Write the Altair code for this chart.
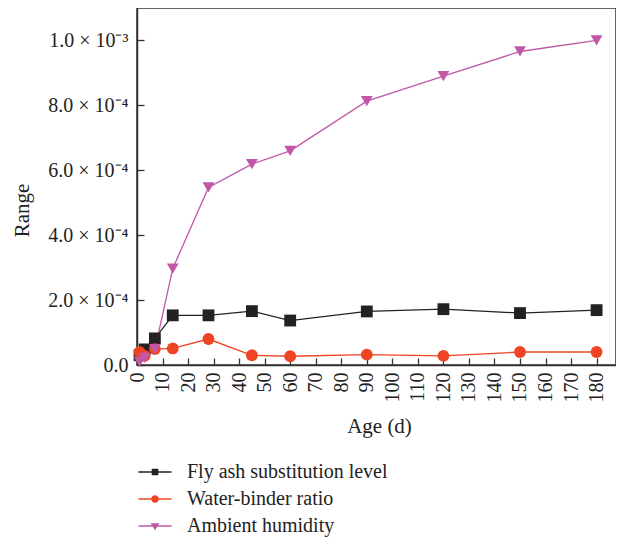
import altair as alt
import pandas as pd

series_names = ["Fly ash substitution level", "Water-binder ratio", "Ambient humidity"]
series_colors = ["#222222", "#ee4424", "#c157a6"]
ages = [1, 3, 7, 14, 28, 45, 60, 90, 120, 150, 180]
fly_ash = [3.0e-5, 4.8e-5, 8.2e-5, 1.53e-4, 1.53e-4, 1.66e-4, 1.37e-4, 1.65e-4, 1.72e-4, 1.60e-4, 1.69e-4]
water_binder = [4.0e-5, 2.8e-5, 4.9e-5, 5.1e-5, 8.0e-5, 3.0e-5, 2.7e-5, 3.2e-5, 2.8e-5, 4.0e-5, 4.0e-5]
humidity = [1.0e-5, 2.2e-5, 4.8e-5, 2.97e-4, 5.47e-4, 6.19e-4, 6.60e-4, 8.13e-4, 8.90e-4, 9.66e-4, 1.0e-3]
x_ticks = list(range(0, 200, 10))
y_ticks = [0, 0.0002, 0.0004, 0.0006, 0.0008, 0.001]

rows = []
for name, vals in zip(series_names, [fly_ash, water_binder, humidity]):
    for a, v in zip(ages, vals):
        rows.append({"series": name, "age": a, "value": v})
df = pd.DataFrame(rows)

W, H = 479, 357
FONT = "Liberation Serif"
AX = "#333333"

point_shapes = ["square", "circle", "triangle-down"]
legend_shapes = [
    "M-1,-0.04 L1,-0.04 L1,0.04 L-1,0.04 Z M-0.2,-0.2 L0.2,-0.2 L0.2,0.2 L-0.2,0.2 Z",
    "M-1,-0.04 L1,-0.04 L1,0.04 L-1,0.04 Z M0.23,0 A0.23,0.23 0 1,1 -0.23,0 A0.23,0.23 0 1,1 0.23,0 Z",
    "M-1,-0.04 L1,-0.04 L1,0.04 L-1,0.04 Z M-0.27,-0.17 L0.27,-0.17 L0,0.26 Z",
]

xs = alt.Scale(domain=[0, 187.6], nice=False, zero=False)
ys = alt.Scale(domain=[0, 0.0011], nice=False)
cs = alt.Scale(domain=series_names, range=series_colors)

y_label_expr = ("datum.value == 0 ? '0.0' : (datum.value > 0.00099 ? '1.0 × 10⁻³' : "
                "format(datum.value * 10000, '.1f') + ' × 10⁻⁴')")

x_axis_main = alt.Axis(values=x_ticks, labelAngle=270, labelAlign="right", labelBaseline="middle",
                       tickSize=0, labelPadding=7, title="Age (d)", titlePadding=13,
                       titleX=242, labelOverlap=False, labelFlush=False, labelBound=False)
y_axis_main = alt.Axis(values=y_ticks, labelExpr=y_label_expr, tickSize=0, labelPadding=9,
                       title="Range", titleX=-105, titleY=202, labelOverlap=False, labelFlush=False)

x_axis_ticks = alt.Axis(values=x_ticks[:-1], orient="top", offset=-H, labels=False, tickSize=7,
                        domain=False, title=None)
y_axis_ticks = alt.Axis(values=y_ticks, orient="right", offset=-W, labels=False, tickSize=7,
                        domain=False, title=None)

lines = alt.Chart(df).mark_line(strokeWidth=1.3).encode(
    x=alt.X("age:Q", scale=xs, axis=x_axis_main),
    y=alt.Y("value:Q", scale=ys, axis=y_axis_main),
    color=alt.Color("series:N", scale=cs, legend=None),
    detail="series:N",
)

points = alt.Chart(df).mark_point(filled=True, opacity=1, size=140).encode(
    x=alt.X("age:Q", scale=xs, axis=x_axis_ticks),
    y=alt.Y("value:Q", scale=ys, axis=y_axis_ticks),
    color=alt.Color("series:N", scale=cs, legend=None),
    shape=alt.Shape("series:N", scale=alt.Scale(domain=series_names, range=point_shapes), legend=None),
)

legend_cfg = dict(orient="none", legendX=1, legendY=447, title=None, symbolSize=1100,
                  labelFont=FONT, labelFontSize=20, labelColor="#222222", labelOffset=15,
                  labelLimit=400, rowPadding=0, symbolOpacity=1, symbolStrokeWidth=0, padding=0)

dummy = alt.Chart(df).mark_point(filled=True, opacity=0, size=1).encode(
    x=alt.X("age:Q", scale=xs, axis=None),
    y=alt.Y("value:Q", scale=ys, axis=None),
    color=alt.Color("series:N", scale=cs, legend=alt.Legend(**legend_cfg)),
    shape=alt.Shape("series:N", scale=alt.Scale(domain=series_names, range=legend_shapes),
                    legend=alt.Legend(**legend_cfg)),
)

chart = alt.layer(lines, points, dummy).resolve_scale(
    shape="independent", color="independent"
).resolve_axis(x="independent", y="independent").properties(
    width=W, height=H,
    autosize=alt.AutoSizeParams(type="none"),
    padding={"left": 129, "top": 0, "right": 0, "bottom": 175},
).configure_view(stroke=AX, strokeWidth=1.5).configure_axis(
    labelFont=FONT, titleFont=FONT, labelFontSize=20, titleFontSize=21,
    labelColor="#222222", titleColor="#222222", titleFontWeight="normal",
    domainColor=AX, domainWidth=1.5, tickColor=AX, tickWidth=1.3, grid=False,
)

chart.save("out.html", embed_options={"renderer": "svg", "actions": False})
